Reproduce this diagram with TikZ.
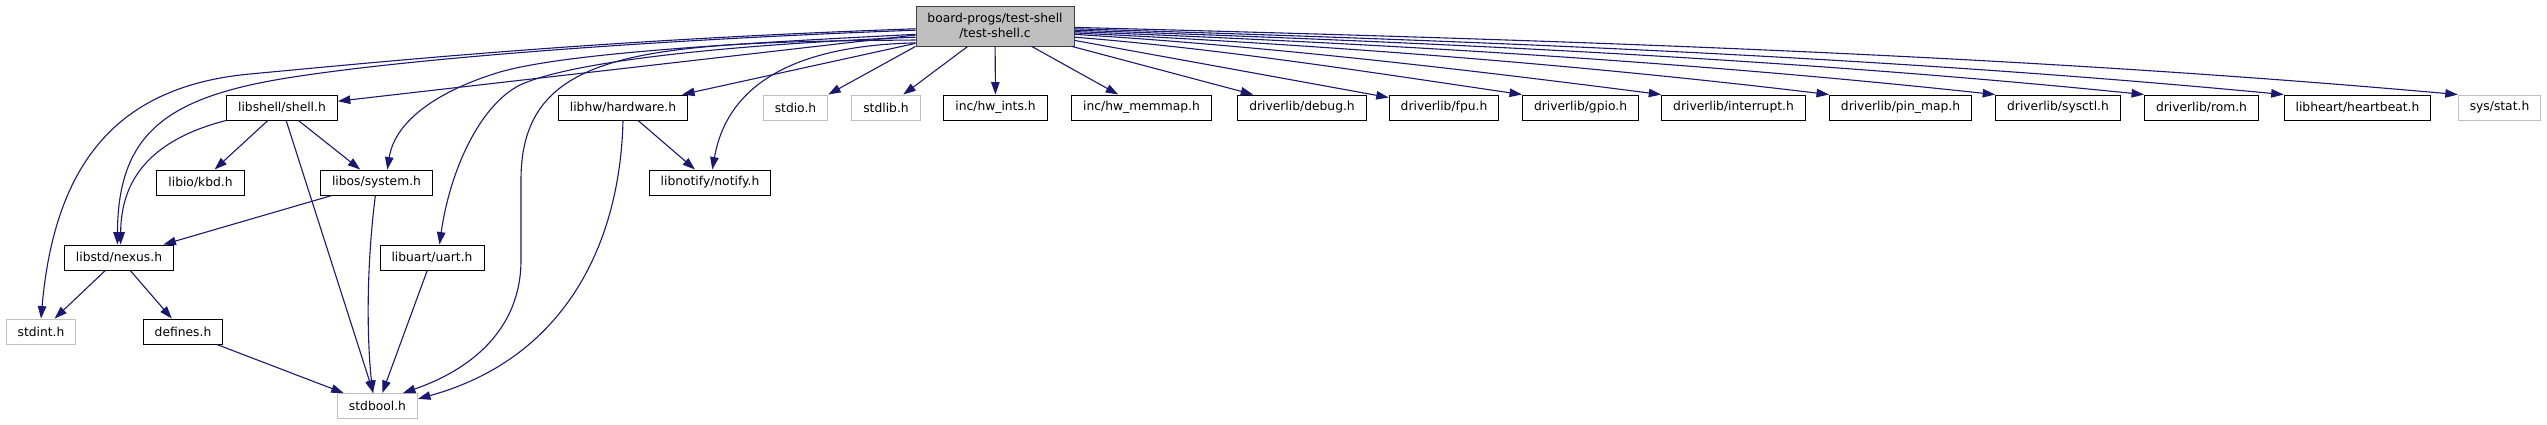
\documentclass[tikz,border=0pt]{standalone}
\usepackage{fontspec}
\setmainfont{DejaVu Sans}
\usetikzlibrary{arrows.meta}

\definecolor{flecha}{HTML}{191970}
\definecolor{borde}{HTML}{BFBFBF}
\definecolor{relleno}{HTML}{BFBFBF}
\definecolor{bordeprincipal}{HTML}{404040}

\begin{document}
\begin{tikzpicture}[x=1pt,y=-1pt,
  caja/.style={draw=black,line width=0.9pt,minimum height=25pt,inner xsep=11.5pt,inner ysep=0pt,
    font=\fontsize{12.3}{15}\selectfont},
  dep/.style={draw=flecha,line width=1.1pt,-{Triangle[length=12.5pt,width=8.5pt]}}]

\useasboundingbox (0,0) rectangle (2547,425);

% Archivo principal
\node[caja,fill=relleno,draw=bordeprincipal,minimum height=40pt,align=center] (main) at (995,26)
  {board-progs/test-shell\\/test-shell.c};

% Cabeceras de la izquierda
\node[caja] (shell) at (282,107.5) {libshell/shell.h};
\node[caja] (hardware) at (623,107.5) {libhw/hardware.h};
\node[caja] (kbd) at (200.5,182.5) {libio/kbd.h};
\node[caja] (system) at (376.5,182.5) {libos/system.h};
\node[caja] (notify) at (710,182.5) {libnotify/notify.h};
\node[caja] (nexus) at (119,257.5) {libstd/nexus.h};
\node[caja] (uart) at (432,257.5) {libuart/uart.h};
\node[caja,draw=borde] (stdint) at (41,331.5) {stdint.h};
\node[caja] (defines) at (183,331.5) {defines.h};
\node[caja,draw=borde] (stdbool) at (377.5,406) {stdbool.h};

% Fila de arriba
\foreach \n/\x/\t/\c in {stdio/795.5/stdio.h/borde, stdlib/886/stdlib.h/borde,
    hwints/995.5/{inc/hw\_ints.h}/black, memmap/1141.5/{inc/hw\_memmap.h}/black,
    debug/1302/{driverlib/debug.h}/black, fpu/1444/{driverlib/fpu.h}/black,
    gpio/1580.5/{driverlib/gpio.h}/black, interrupt/1733.5/{driverlib/interrupt.h}/black,
    pinmap/1900.5/{driverlib/pin\_map.h}/black, sysctl/2058/{driverlib/sysctl.h}/black,
    rom/2201.5/{driverlib/rom.h}/black, heartbeat/2357.5/{libheart/heartbeat.h}/black,
    stat/2499.5/{sys/stat.h}/borde}
  \node[caja,draw=\c] (\n) at (\x,107.5) {\t};

% Dependencias rectas
\foreach \n in {shell,hardware,stdlib,hwints,memmap,debug,fpu}
  \draw[dep] (main) -- (\n);
\draw[dep] (main.south west) -- (stdio.north east);

% Dependencias curvas a la derecha
\foreach \n/\a/\d/\s in {gpio/352/150/22, interrupt/354/195/25, pinmap/355/250/30,
    sysctl/356/307/33, rom/357/356/36, heartbeat/358/400/38, stat/359/460/41}
  \draw[dep] (main.\a) .. controls +(\d,12) and +(-\d,-\s) .. (\n.north west);

% Dependencias curvas a la izquierda
\draw[dep] (main.182) .. controls (600,40) and (400,60) .. (250,74)
  .. controls (120,86) and (55,160) .. (stdint.north);
\draw[dep] (main.183) .. controls (650,40) and (420,58) .. (300,76)
  .. controls (170,95) and (118,130) .. (nexus.97);
\draw[dep] (main.186) .. controls (700,45) and (560,55) .. (500,72)
  .. controls (440,90) and (395,120) .. (system.50);
\draw[dep] (main.188) .. controls (720,45) and (570,62) .. (520,85)
  .. controls (480,105) and (450,170) .. (uart.60);
\draw[dep] (main.190) .. controls (640,42) and (521,50) .. (521,180) -- (521,260)
  .. controls (521,330) and (470,370) .. (stdbool.27);
\draw[dep] (main.192) .. controls (820,45) and (730,70) .. (notify.80);

% Dependencias internas
\foreach \a/\b in {shell/kbd, shell/system, shell/stdbool, system/nexus, nexus/stdint,
    nexus/defines, defines/stdbool, uart/stdbool, hardware/notify}
  \draw[dep] (\a) -- (\b);
\draw[dep] (shell.south west) .. controls (150,140) and (121,180) .. (nexus.83);
\draw[dep] (system.265) .. controls (366,270) and (367,340) .. (stdbool.110);
\draw[dep] (hardware.south) .. controls (620,250) and (560,360) .. (stdbool.10);
\end{tikzpicture}
\end{document}
